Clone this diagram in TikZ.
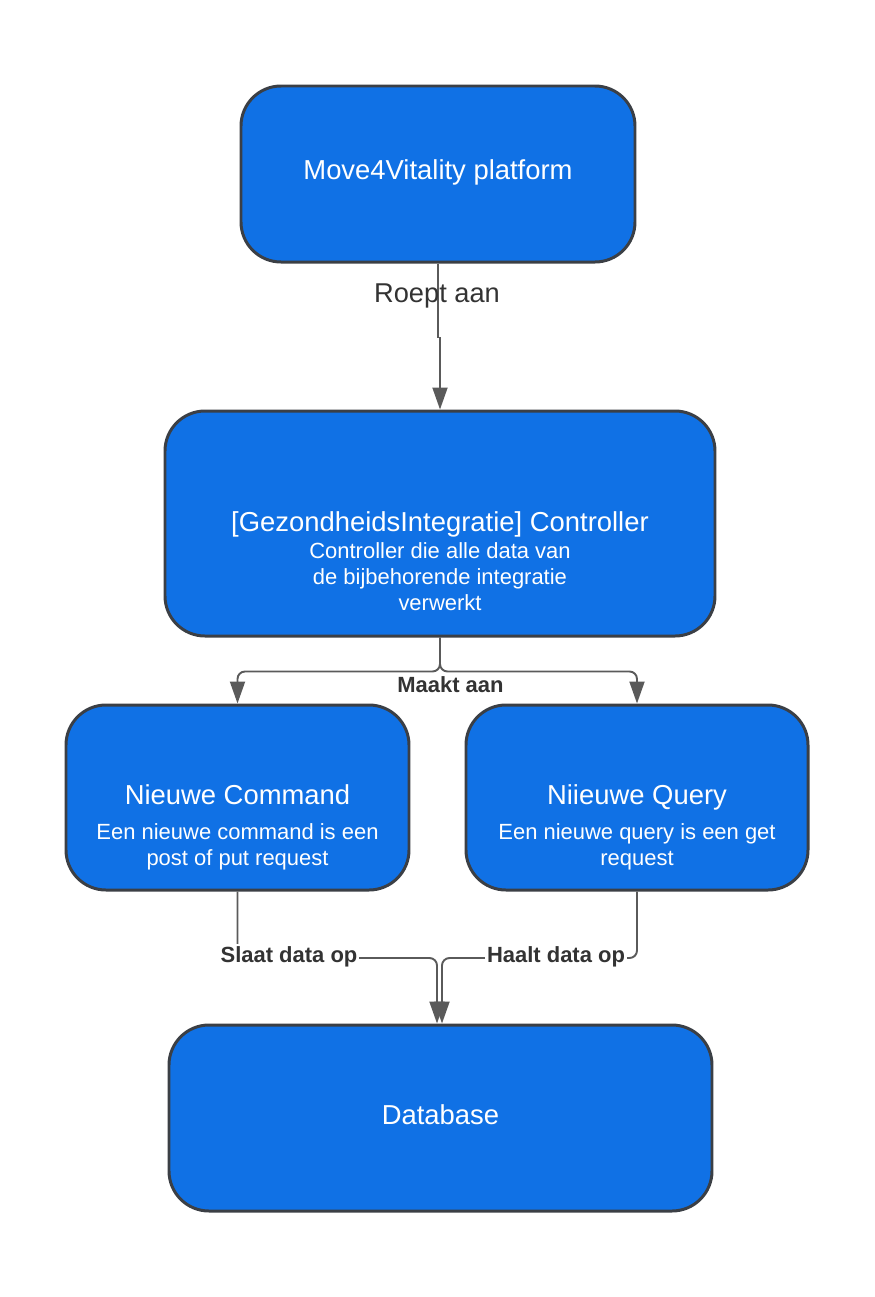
\documentclass[tikz,border=0pt]{standalone}
\usepackage{fontspec}
\setmainfont{Liberation Sans}
\usetikzlibrary{arrows.meta}
\definecolor{boxblue}{HTML}{1071E5}
\definecolor{boxedge}{HTML}{3B3F45}
\definecolor{linegray}{HTML}{5A5A5A}
\definecolor{labelgray}{HTML}{333333}
\tikzset{
    block/.style={draw=boxedge, line width=1.7pt, fill=boxblue, rounded corners=0.8cm},
    blocktitle/.style={text=white, font=\fontsize{15.6}{18}\selectfont, anchor=base, inner sep=0pt},
    subtext/.style={text=white, font=\fontsize{12.5}{14.8}\selectfont, align=center, anchor=north, inner sep=0pt},
    link/.style={draw=linegray, line width=1.1pt, -{Triangle[length=0.44cm,width=0.3cm]}},
    linklabel/.style={text=labelgray, font=\bfseries\fontsize{12.5}{15}\selectfont, anchor=base, inner sep=1pt, fill=white}
}
\begin{document}
\begin{tikzpicture}
                \useasboundingbox (0,0) rectangle (17.5,-25.94);
                % blokken
                \node[block, minimum width=7.88cm, minimum height=3.52cm] (platform) at (8.76,-3.48) {};
                \node[blocktitle] (platformtitle) at (8.76,-3.58) {Move4Vitality platform};
                \node[block, minimum width=11cm, minimum height=4.5cm] (controller) at (8.8,-10.47) {};
                \node[blocktitle] (controllertitle) at (8.8,-10.62) {[GezondheidsIntegratie] Controller};
                \node[subtext] (controllertext) at (8.8,-10.84) {Controller die alle data van\\de bijbehorende integratie\\verwerkt};
                \node[block, minimum width=6.86cm, minimum height=3.7cm] (command) at (4.75,-15.95) {};
                \node[blocktitle] (commandtitle) at (4.75,-16.08) {Nieuwe Command};
                \node[subtext] (commandtext) at (4.75,-16.46) {Een nieuwe command is een\\post of put request};
                \node[block, minimum width=6.84cm, minimum height=3.7cm] (query) at (12.74,-15.95) {};
                \node[blocktitle] (querytitle) at (12.74,-16.08) {Niieuwe Query};
                \node[subtext] (querytext) at (12.74,-16.46) {Een nieuwe query is een get\\request};
                \node[block, minimum width=10.86cm, minimum height=3.72cm] (database) at (8.81,-22.36) {};
                \node[blocktitle] (databasetitle) at (8.81,-22.48) {Database};
                % verbindingen
                \draw[link] (platform.south) -- ++(0,-1.48) -| (controller.north);
                \node[anchor=base, text=labelgray, font=\fontsize{15.5}{18}\selectfont, inner sep=0pt] (roept) at (8.74,-6.04) {Roept aan};
                \foreach \p in {command,query} {
                    \draw[link, rounded corners=0.15cm] (controller.south) -- ++(0,-0.68) -| (\p.north);
                }
                \node[linklabel] (maakt) at (9.01,-13.84) {Maakt aan};
                \coordinate (joinleft) at (8.74,-19.16);
                \coordinate (joinright) at (8.84,-19.16);
                \draw[link, rounded corners=0.15cm] (command.south) |- (joinleft) -- (joinleft |- database.north);
                \draw[link, rounded corners=0.15cm] (query.south) |- (joinright) -- (joinright |- database.north);
                \node[linklabel] (slaat) at (5.78,-19.24) {Slaat data op};
                \node[linklabel] (haalt) at (11.12,-19.24) {Haalt data op};
            \end{tikzpicture}
\end{document}
